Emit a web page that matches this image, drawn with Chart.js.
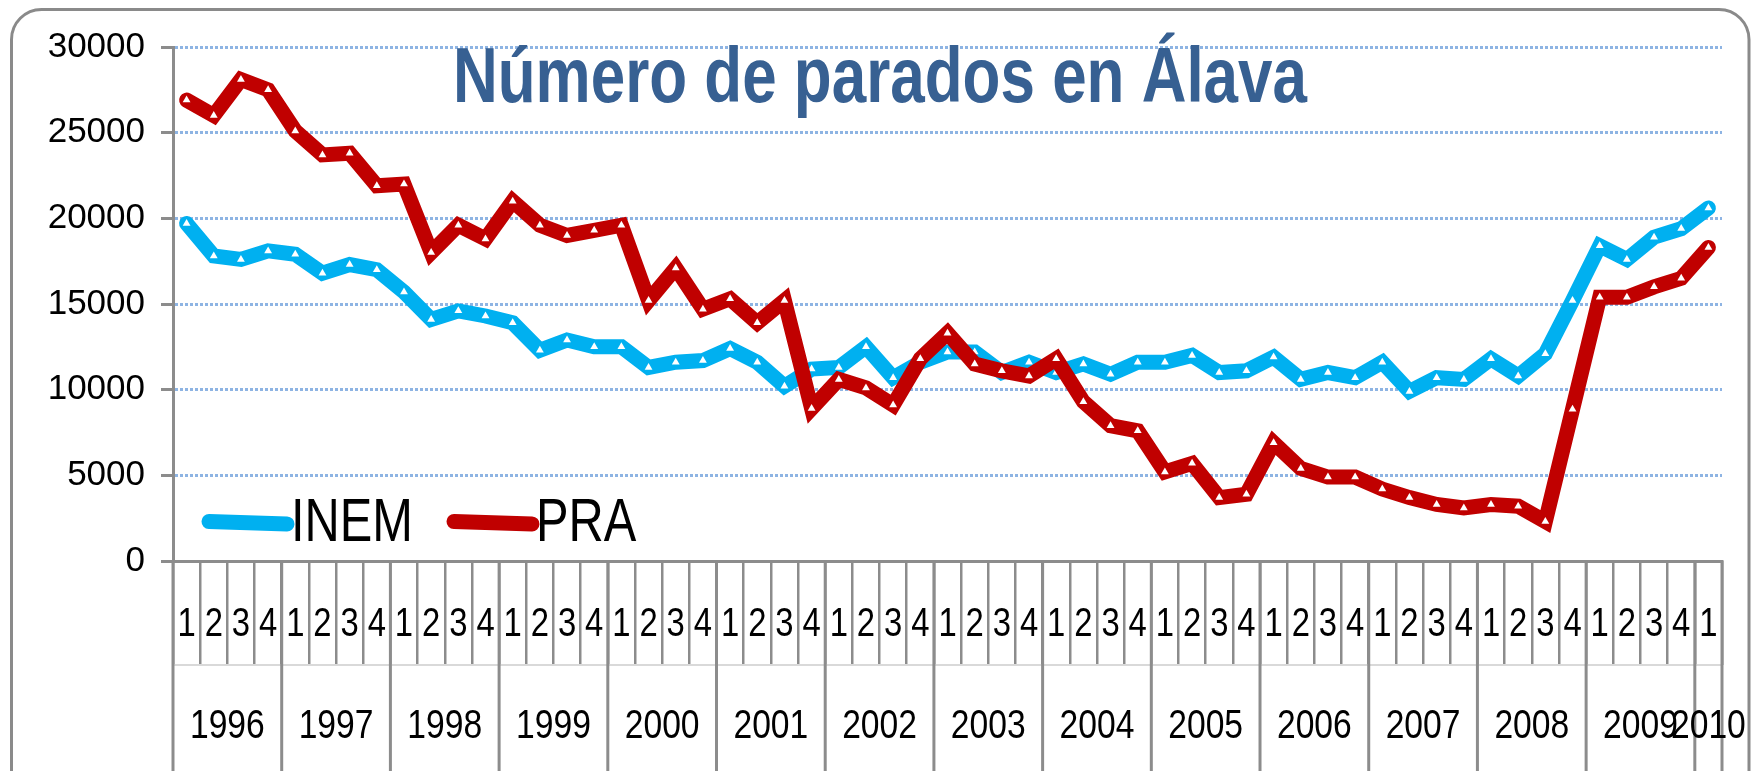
<!DOCTYPE html>
<html><head><meta charset="utf-8">
<script src="https://cdn.jsdelivr.net/npm/chart.js@4.4.1/dist/chart.umd.min.js"></script>
<style>html,body{margin:0;padding:0;background:#fff;overflow:hidden}</style>
</head><body>
<canvas id="c" width="1751" height="771" style="width:1751px;height:771px;display:block"></canvas>
<script>
const chartTitle = 'Número de parados en Álava';
const quarterLabels = [
  '1','2','3','4','1','2','3','4','1','2','3','4','1','2','3','4',
  '1','2','3','4','1','2','3','4','1','2','3','4','1','2','3','4',
  '1','2','3','4','1','2','3','4','1','2','3','4','1','2','3','4',
  '1','2','3','4','1','2','3','4','1'
];
const yearLabels = ['1996','1997','1998','1999','2000','2001','2002','2003','2004','2005','2006','2007','2008','2009','2010'];
const yearSpans  = [4,4,4,4,4,4,4,4,4,4,4,4,4,4,1];
const inem = [
  19700,17800,17600,18100, 17900,16800,17300,17000, 15700,14100,14600,14300, 13900,12300,12900,12500,
  12500,11300,11600,11700, 12400,11600,10200,11200, 11300,12500,10700,11600, 12200,12200,11000,11600,
  11000,11500,10900,11600, 11600,12000,11000,11100, 11900,10600,11000,10700, 11600,9900,10700,10600,
  11800,10800,12100,15200, 18400,17600,18900,19400, 20600
];
const pra = [
  26900,26000,28100,27500, 25100,23700,23800,21900, 22000,18000,19600,18800, 21000,19600,19000,19300,
  19600,15200,17100,14700, 15300,13900,15200,8900, 10600,10100,9100,11800, 13300,11500,11100,10800,
  11800,9300,7900,7600, 5200,5700,3700,3900, 6900,5400,4900,4900, 4200,3700,3300,3100,
  3300,3200,2300,8850, 15400,15400,16000,16500, 18300
];
const seriesNames = ['INEM','PRA'];
const seriesColors = ['#00B0F0','#C00000'];
const yMin = 0, yMax = 30000, yStep = 5000;

const SANS = "'Liberation Sans',Arial,sans-serif";
const AXIS_GRAY = '#8c8c8c';
const NARROW_X = 0.82;

function fillScaled(ctx, text, x, y, font, sx, align, baseline) {
  ctx.save();
  ctx.font = font;
  ctx.textBaseline = baseline || 'alphabetic';
  ctx.textAlign = 'left';
  const w = ctx.measureText(text).width * sx;
  let x0 = x;
  if (align === 'center') x0 = x - w / 2;
  else if (align === 'right') x0 = x - w;
  ctx.translate(x0, y);
  ctx.scale(sx, 1);
  ctx.fillText(text, 0, 0);
  ctx.restore();
}

const framePlugin = {
  id: 'frame',
  beforeDraw(chart) {
    const ctx = chart.ctx;
    ctx.save();
    ctx.fillStyle = '#fff';
    ctx.fillRect(0, 0, chart.width, chart.height);
    ctx.strokeStyle = '#8a8a8a';
    ctx.lineWidth = 3;
    ctx.beginPath();
    ctx.roundRect(11.5, 9.5, 1737.5, 820, 30);
    ctx.stroke();
    ctx.restore();
  }
};

const titlePlugin = {
  id: 'bigTitle',
  beforeDatasetsDraw(chart) {
    const ctx = chart.ctx;
    ctx.save();
    ctx.font = 'bold 77px ' + SANS;
    const w = ctx.measureText(chartTitle).width;
    ctx.fillStyle = '#376092';
    fillScaled(ctx, chartTitle, 453, 102, 'bold 77px ' + SANS, 854 / w, 'left');
    ctx.restore();
  }
};

const legendPlugin = {
  id: 'inLegend',
  afterDatasetsDraw(chart) {
    const ctx = chart.ctx;
    const items = [
      {x0: 209, x1: 287, tx: 291},
      {x0: 454, x1: 532, tx: 536}
    ];
    ctx.save();
    items.forEach((it, i) => {
      const ds = chart.data.datasets[i];
      ctx.strokeStyle = ds.borderColor;
      ctx.lineWidth = 15;
      ctx.lineCap = 'round';
      ctx.beginPath();
      ctx.moveTo(it.x0, 521.5);
      ctx.lineTo(it.x1, 524);
      ctx.stroke();
      ctx.fillStyle = '#000';
      fillScaled(ctx, ds.label, it.tx, 541, '61px ' + SANS, 0.8, 'left');
    });
    ctx.restore();
  }
};

const categoryRowsPlugin = {
  id: 'categoryRows',
  afterDraw(chart) {
    const ctx = chart.ctx;
    const xs = chart.scales.x;
    const half = (xs.getPixelForValue(1) - xs.getPixelForValue(0)) / 2;
    ctx.save();
    // quarter labels
    ctx.fillStyle = '#000';
    chart.data.labels.forEach((q, i) => {
      fillScaled(ctx, q, xs.getPixelForValue(i), 636, '40px ' + SANS, NARROW_X, 'center');
    });
    // separator between rows
    ctx.strokeStyle = '#d9d9d9';
    ctx.lineWidth = 2;
    ctx.beginPath();
    ctx.moveTo(xs.left, 665);
    ctx.lineTo(xs.right, 665);
    ctx.stroke();
    // years
    ctx.strokeStyle = AXIS_GRAY;
    ctx.lineWidth = 3;
    let idx = 0;
    yearLabels.forEach((yl, k) => {
      const n = yearSpans[k];
      const left = xs.getPixelForValue(idx) - half;
      const right = xs.getPixelForValue(idx + n - 1) + half;
      ctx.beginPath();
      ctx.moveTo(left, xs.top);
      ctx.lineTo(left, chart.height);
      ctx.stroke();
      if (k === yearLabels.length - 1) {
        ctx.beginPath();
        ctx.moveTo(right, xs.top);
        ctx.lineTo(right, chart.height);
        ctx.stroke();
      }
      fillScaled(ctx, yl, (left + right) / 2, 738, '41px ' + SANS, NARROW_X, 'center');
      idx += n;
    });
    ctx.restore();
  }
};

new Chart(document.getElementById('c'), {
  type: 'line',
  data: {
    labels: quarterLabels,
    datasets: [
      {
        label: seriesNames[0], data: inem, order: 1,
        borderColor: seriesColors[0], backgroundColor: seriesColors[0],
        borderWidth: 15, tension: 0, borderJoinStyle: 'miter', borderCapStyle: 'round',
        pointStyle: 'triangle', pointRadius: 4.5, pointBackgroundColor: '#fff', pointBorderWidth: 0, pointHoverRadius: 4.5
      },
      {
        label: seriesNames[1], data: pra, order: 0,
        borderColor: seriesColors[1], backgroundColor: seriesColors[1],
        borderWidth: 15, tension: 0, borderJoinStyle: 'miter', borderCapStyle: 'round',
        pointStyle: 'triangle', pointRadius: 4.5, pointBackgroundColor: '#fff', pointBorderWidth: 0, pointHoverRadius: 4.5
      }
    ]
  },
  options: {
    responsive: false,
    devicePixelRatio: 1,
    animation: false,
    events: [],
    layout: { padding: { top: 47, right: 29, left: 0, bottom: 0 } },
    plugins: { legend: { display: false }, title: { display: false }, tooltip: { enabled: false } },
    scales: {
      x: {
        type: 'category',
        offset: true,
        grid: {
          offset: true, drawOnChartArea: false, drawTicks: true, tickLength: 104,
          color: AXIS_GRAY, tickColor: AXIS_GRAY, lineWidth: 2.5, tickWidth: 2.5
        },
        border: { display: true, color: AXIS_GRAY, width: 3 },
        ticks: { display: false, autoSkip: false, maxRotation: 0, minRotation: 0 },
        afterFit(scale) { scale.height = 210; }
      },
      y: {
        min: yMin, max: yMax,
        grid: {
          color: '#8EB4E3', lineWidth: 3,
          drawTicks: true, tickLength: 12, tickColor: AXIS_GRAY, tickWidth: 3, tickBorderDash: []
        },
        border: { display: true, color: AXIS_GRAY, width: 3, dash: [3, 2] },
        ticks: {
          stepSize: yStep, padding: 16, color: '#000',
          font: { family: SANS, size: 35 },
          callback: (v) => String(v)
        },
        afterFit(scale) { scale.width = 173; }
      }
    }
  },
  plugins: [framePlugin, titlePlugin, legendPlugin, categoryRowsPlugin]
});
</script>
</body></html>
